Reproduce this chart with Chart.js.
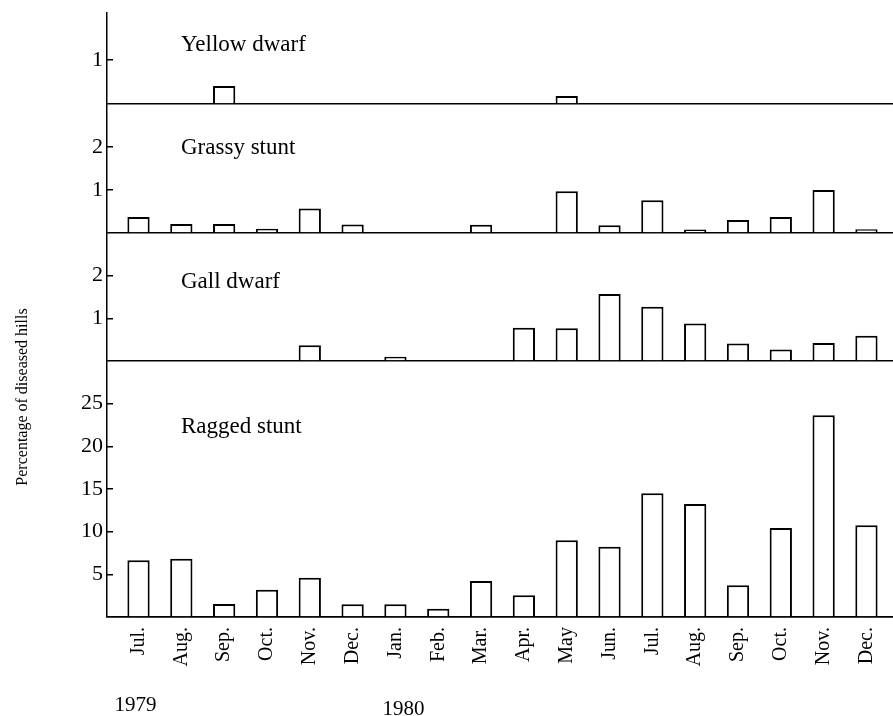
<!DOCTYPE html>
<html>
<head>
<meta charset="utf-8">
<script src="https://cdn.jsdelivr.net/npm/chart.js@4.4.1/dist/chart.umd.min.js"></script>
<style>
html, body { margin: 0; padding: 0; background: #fff; }
</style>
</head>
<body>
<canvas id="myChart" width="893" height="716"></canvas>
<script>
var months = ['Jul.', 'Aug.', 'Sep.', 'Oct.', 'Nov.', 'Dec.', 'Jan.', 'Feb.', 'Mar.', 'Apr.', 'May', 'Jun.', 'Jul.', 'Aug.', 'Sep.', 'Oct.', 'Nov.', 'Dec.'];
var years = ['1979', '1980'];
var yearStart = [0, 6];
var diseases = ['Yellow dwarf', 'Grassy stunt', 'Gall dwarf', 'Ragged stunt'];

// percentage of diseased hills per month
var yellowDwarf = [0, 0, 0.41, 0, 0, 0, 0, 0, 0, 0, 0.18, 0, 0, 0, 0, 0, 0, 0];
var grassyStunt = [0.37, 0.21, 0.21, 0.10, 0.57, 0.20, 0, 0, 0.19, 0, 0.97, 0.18, 0.76, 0.08, 0.30, 0.37, 1.0, 0.09];
var gallDwarf = [0, 0, 0, 0, 0.37, 0, 0.10, 0, 0, 0.78, 0.77, 1.57, 1.27, 0.88, 0.41, 0.27, 0.42, 0.59];
var raggedStunt = [6.65, 6.84, 1.52, 3.2, 4.61, 1.49, 1.49, 0.98, 4.22, 2.54, 8.99, 8.24, 14.5, 13.25, 3.71, 10.43, 23.64, 10.75];

// tick labels for each panel
var yellowTicks = [0, 1];
var grassyTicks = [0, 1, 2];
var gallTicks = [0, 1, 2];
var raggedTicks = [0, 5, 10, 15, 20, 25];

var serif = "'Liberation Serif', 'DejaVu Serif', serif";

function toPoints(arr) {
    return arr.map(function(v, i) { return {x: i, y: v}; });
}

function barSet(label, arr, axis) {
    return {
        label: label,
        data: toPoints(arr),
        yAxisID: axis,
        grouped: false,
        backgroundColor: '#fff',
        borderColor: '#000',
        borderWidth: function(c) { return c.parsed && c.parsed.y === 0 ? 0 : 2; },
        barPercentage: 0.52,
        categoryPercentage: 1
    };
}

function yAxis(max, ticks, weight) {
    return {
        type: 'linear',
        position: 'left',
        stack: 'panels',
        stackWeight: weight,
        min: 0,
        max: max,
        afterBuildTicks: function(s) {
            s.ticks = ticks.map(function(v) { return {value: v}; });
        },
        afterFit: function(s) {
            s.width = 107;
            s.paddingTop = 0;
            s.paddingBottom = 0;
        },
        border: {display: true, color: '#000', width: 1.5},
        grid: {
            color: function(c) { return c.tick && c.tick.value === 0 ? '#000' : 'rgba(0,0,0,0)'; },
            tickColor: function(c) { return c.tick && c.tick.value === 0 ? 'rgba(0,0,0,0)' : '#000'; },
            lineWidth: 1.5,
            tickWidth: 1.5,
            tickLength: -6
        },
        ticks: {
            padding: 10,
            color: '#000',
            font: {family: serif, size: 22},
            callback: function(v) { return v === 0 ? '' : v; }
        }
    };
}

var panelText = {
    id: 'panelText',
    afterDraw: function(chart) {
        var c = chart.ctx;
        var area = chart.chartArea;
        var xs = chart.scales.x;
        var ids = ['yYellow', 'yGrassy', 'yGall', 'yRagged'];
        var offs = [32, 44, 49, 66];
        c.save();
        c.fillStyle = '#000';
        c.textBaseline = 'middle';
        c.font = '23px ' + serif;
        for (var i = 0; i < ids.length; i++) {
            c.fillText(diseases[i], area.left + 74, chart.scales[ids[i]].top + offs[i]);
        }
        c.font = '21px ' + serif;
        c.textAlign = 'center';
        var yy = [705, 709];
        var dx = [-3, 8];
        for (var j = 0; j < years.length; j++) {
            c.fillText(years[j], xs.getPixelForValue(yearStart[j]) + dx[j], yy[j]);
        }
        c.translate(23, 397);
        c.rotate(-Math.PI / 2);
        c.font = '16px ' + serif;
        c.fillText('Percentage of diseased hills', 0, 0);
        c.restore();
    }
};

new Chart(document.getElementById('myChart'), {
    type: 'bar',
    data: {
        datasets: [
            barSet(diseases[0], yellowDwarf, 'yYellow'),
            barSet(diseases[1], grassyStunt, 'yGrassy'),
            barSet(diseases[2], gallDwarf, 'yGall'),
            barSet(diseases[3], raggedStunt, 'yRagged')
        ]
    },
    options: {
        responsive: false,
        animation: false,
        layout: {padding: {top: 13, left: 0, right: 0, bottom: 0}},
        plugins: {legend: {display: false}, tooltip: {enabled: false}},
        scales: {
            x: {
                type: 'linear',
                offset: false,
                min: -0.736,
                max: 17.62,
                afterBuildTicks: function(s) {
                    s.ticks = months.map(function(m, i) { return {value: i}; });
                },
                afterFit: function(s) {
                    s.height = 99;
                    s.paddingLeft = 0;
                    s.paddingRight = 0;
                },
                border: {display: true, color: '#000', width: 1.5},
                grid: {offset: false, drawOnChartArea: false, drawTicks: false},
                ticks: {
                    autoSkip: false,
                    minRotation: 90,
                    maxRotation: 90,
                    padding: 10,
                    color: '#000',
                    font: {family: serif, size: 20},
                    callback: function(v) { return months[v]; }
                }
            },
            yRagged: yAxis(30, raggedTicks, 256),
            yGall: yAxis(3, gallTicks, 128),
            yGrassy: yAxis(3, grassyTicks, 129),
            yYellow: yAxis(2.07, yellowTicks, 91)
        }
    },
    plugins: [panelText]
});
</script>
</body>
</html>
